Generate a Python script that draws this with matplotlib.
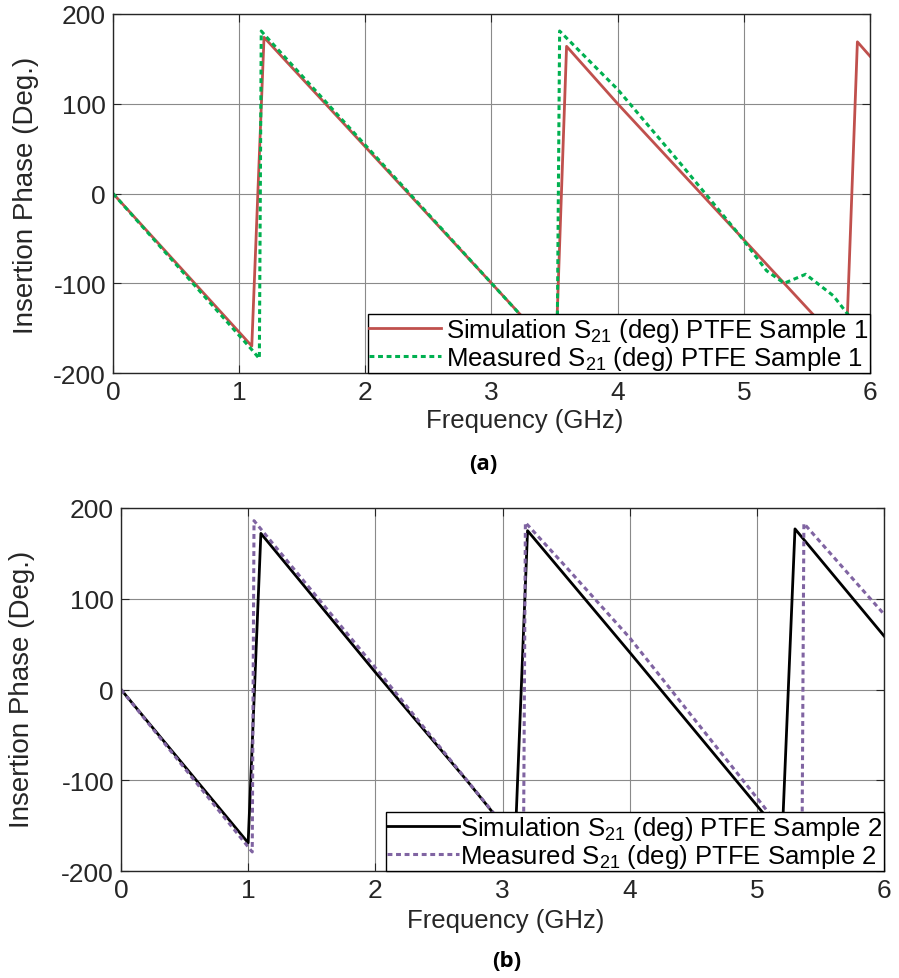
import matplotlib
matplotlib.use("Agg")
import matplotlib.pyplot as plt

plt.rcParams['font.family'] = ['Liberation Sans', 'DejaVu Sans']
plt.rcParams['mathtext.fontset'] = 'custom'
plt.rcParams['mathtext.rm'] = 'Liberation Sans'
plt.rcParams['mathtext.it'] = 'Liberation Sans'
plt.rcParams['axes.unicode_minus'] = False

# ---------------- data: panel (a) ----------------
sim1_f = [0.0, 1.10, 1.197, 3.0, 3.51, 3.595, 4.0, 4.99, 5.55, 5.81, 5.90, 6.0]
sim1_p = [0.0, -170, 174, -100, -178, 164, 100, -50, -135, -177, 169, 153]
meas1_f = [0.0, 1.10, 1.16, 1.175, 1.2, 3.0, 3.52, 3.54, 4.0, 4.5, 4.97, 5.18, 5.32, 5.49, 5.71, 5.81, 6.0]
meas1_p = [0.0, -174, -184, 181, 177, -100, -180, 181, 116, 33, -47, -86, -100, -90, -114, -132, -166]

# ---------------- data: panel (b) ----------------
sim2_f = [0.0, 1.0, 1.10, 2.0, 2.718, 3.10, 3.197, 4.0, 5.037, 5.20, 5.30, 6.0]
sim2_p = [0.0, -169, 172, 19, -100, -166, 175, 41, -134, -160, 177, 59]
meas2_f = [0.0, 1.032, 1.046, 2.0, 2.935, 3.165, 3.18, 3.5, 4.0, 4.89, 5.10, 5.355, 5.37, 6.0]
meas2_p = [0.0, -179, 186, 24, -137, -175, 184, 135, 57, -100, -137, -180, 183, 83]

xticks = [0, 1, 2, 3, 4, 5, 6]
yticks = [-200, -100, 0, 100, 200]

labels_a = ['Simulation S$_{21}$ (deg) PTFE Sample 1', 'Measured S$_{21}$ (deg) PTFE Sample 1']
labels_b = ['Simulation S$_{21}$ (deg) PTFE Sample 2', 'Measured S$_{21}$ (deg) PTFE Sample 2']

W, H = 899, 979
fig = plt.figure(figsize=(W / 100, H / 100), dpi=100)

def box(l, t, r, b):
    return [l / W, 1 - b / H, (r - l) / W, (b - t) / H]

ax1 = fig.add_axes(box(113, 15, 870, 374))
ax2 = fig.add_axes(box(121, 509, 884, 872))

tick_color = '#262626'

def style(ax):
    ax.set_xlim(0, 6)
    ax.set_ylim(-200, 200)
    ax.set_xticks(xticks)
    ax.set_yticks(yticks)
    ax.grid(True, color='#8a8a8a', linewidth=0.8)
    ax.set_axisbelow(True)
    ax.tick_params(direction='in', length=6, width=0.8, top=True, right=True,
                   labelsize=19, colors=tick_color, pad=5)
    for s in ax.spines.values():
        s.set_color('#262626')
        s.set_linewidth(1.0)

style(ax1)
style(ax2)

dot = (0, (1.6, 1.2))

def add_legend(ax, handles, labels, textpad):
    leg = ax.legend(handles, labels, loc='lower right', bbox_to_anchor=(1.0, 0.0),
                    borderaxespad=0, fontsize=18.5, handlelength=2.8,
                    handletextpad=textpad, labelspacing=0.0, borderpad=0.05,
                    fancybox=False, framealpha=1, edgecolor='black')
    leg.get_frame().set_linewidth(1.0)
    return leg

l1, = ax1.plot(sim1_f, sim1_p, color='#C0504D', linewidth=2.0)
l2, = ax1.plot(meas1_f, meas1_p, color='#00B050', linewidth=2.2, linestyle=dot)
add_legend(ax1, [l1, l2], labels_a, 0.2)

l3, = ax2.plot(sim2_f, sim2_p, color='black', linewidth=2.0)
l4, = ax2.plot(meas2_f, meas2_p, color='#8064A2', linewidth=2.2, linestyle=dot)
add_legend(ax2, [l3, l4], labels_b, 0.05)

fig.text(26 / W, 1 - 195 / H, 'Insertion Phase (Deg.)', fontsize=20, color=tick_color,
         rotation=90, ha='center', va='center')
fig.text(22 / W, 1 - 689 / H, 'Insertion Phase (Deg.)', fontsize=20, color=tick_color,
         rotation=90, ha='center', va='center')
fig.text(525 / W, 1 - 421 / H, 'Frequency (GHz)', fontsize=18.5, color=tick_color,
         ha='center', va='center')
fig.text(506 / W, 1 - 921 / H, 'Frequency (GHz)', fontsize=18.5, color=tick_color,
         ha='center', va='center')
fig.text(483 / W, 1 - 465 / H, '(a)', fontsize=16, fontweight='bold',
         family=['Open Sans', 'DejaVu Sans'], ha='center', va='center')
fig.text(507 / W, 1 - 962 / H, '(b)', fontsize=16, fontweight='bold',
         family=['Open Sans', 'DejaVu Sans'], ha='center', va='center')

fig.savefig('out.png', dpi=100)
